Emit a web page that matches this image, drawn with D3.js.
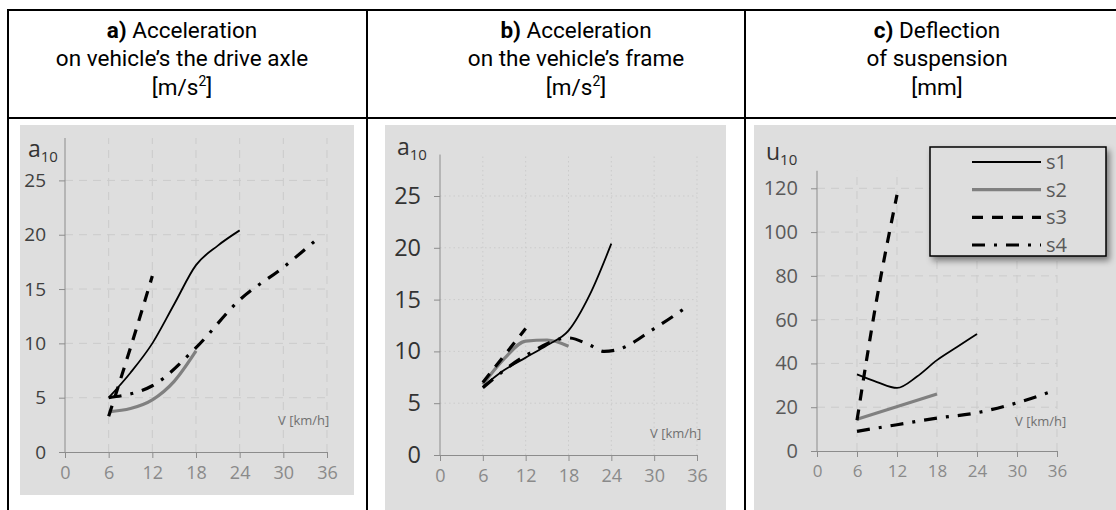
<!DOCTYPE html>
<html lang="en">
<head>
<meta charset="UTF-8">
<title>Acceleration and deflection vs speed</title>
<script src="https://cdnjs.cloudflare.com/ajax/libs/d3/7.8.5/d3.min.js"></script>
<style>
    body{margin:0;background:#fff;}
    svg{display:block;font-family:"Open Sans", sans-serif;}
</style>
</head>
<body>
<svg id="chart" width="1116" height="510"></svg>
<script>
// ---- data ----
var xTicks = [0, 6, 12, 18, 24, 30, 36];
var yTicksAcc = [0, 5, 10, 15, 20, 25];
var yTicksDef = [0, 20, 40, 60, 80, 100, 120];
var seriesNames = ["s1", "s2", "s3", "s4"];

// a) acceleration on the drive axle
var aS1V = [6, 9, 12, 15, 18, 21, 24];
var aS1 = [5, 7.3, 10, 13.6, 17.2, 19, 20.4];
var aS2V = [6, 9, 12, 15, 18];
var aS2 = [3.7, 4.0, 4.8, 6.5, 9.3];
var aS3V = [6, 9, 12];
var aS3 = [3.3, 9.6, 16.2];
var aS4V = [6, 12, 18, 24, 30, 35];
var aS4 = [5, 6.1, 9.6, 14, 17, 19.8];

// b) acceleration on the frame
var bS1V = [6, 9, 12, 15, 18, 21, 24];
var bS1 = [6.6, 8.2, 9.4, 10.6, 12, 15.5, 20.4];
var bS2V = [6, 9, 12, 15, 18];
var bS2 = [6.8, 9.3, 11, 11.1, 10.5];
var bS3V = [6, 9, 12];
var bS3 = [7, 9.6, 12.2];
var bS4V = [6, 12, 18, 21, 23, 25, 30, 35];
var bS4 = [6.5, 9.6, 11.3, 10.6, 10, 10.2, 12.2, 14.5];

// c) deflection of suspension
var cS1V = [6, 9, 12, 15, 18, 21, 24];
var cS1 = [35, 31.5, 28.8, 34, 41.5, 47.5, 53.5];
var cS2V = [6, 18];
var cS2 = [14.5, 26];
var cS3V = [6, 9, 12];
var cS3 = [14, 70, 117];
var cS4V = [6, 12, 18, 24, 30, 35];
var cS4 = [9, 12, 15, 17.5, 22, 27];

// ---- styles ----
var lineStyle = {
    s1: {stroke: "#000", width: 1.8, dash: null},
    s2: {stroke: "#808080", width: 3.2, dash: null},
    s3: {stroke: "#000", width: 3.2, dash: "11,9"},
    s4: {stroke: "#000", width: 3.2, dash: "13,9,3,9"}
};

var svg = d3.select("#chart");

// ---- table frame ----
var frame = svg.append("g").attr("stroke", "#000").attr("stroke-width", 2);
frame.append("line").attr("x1", 7).attr("x2", 1116).attr("y1", 10).attr("y2", 10);
frame.append("line").attr("x1", 7).attr("x2", 1116).attr("y1", 118).attr("y2", 118);
frame.append("line").attr("x1", 8).attr("x2", 8).attr("y1", 9).attr("y2", 510);
frame.append("line").attr("x1", 367).attr("x2", 367).attr("y1", 9).attr("y2", 510);
frame.append("line").attr("x1", 745).attr("x2", 745).attr("y1", 9).attr("y2", 510);

// ---- header texts ----
var headers = [
    {cx: 182, tag: "a)", lines: ["Acceleration", "on vehicle\u2019s the drive axle"], unit: "m/s"},
    {cx: 576, tag: "b)", lines: ["Acceleration", "on the vehicle\u2019s frame"], unit: "m/s"},
    {cx: 937, tag: "c)", lines: ["Deflection", "of suspension"], unit: "mm"}
];
headers.forEach(function(h){
    var g = svg.append("g").attr("font-size", 22.5).attr("fill", "#000")
        .attr("font-family", "Roboto, sans-serif").attr("text-anchor", "middle");
    var t1 = g.append("text").attr("x", h.cx).attr("y", 38);
    t1.append("tspan").attr("font-weight", "bold").text(h.tag + " ");
    t1.append("tspan").text(h.lines[0]);
    g.append("text").attr("x", h.cx).attr("y", 65.5).text(h.lines[1]);
    var t3 = g.append("text").attr("x", h.cx).attr("y", 95);
    t3.append("tspan").text("[" + h.unit);
    if (h.unit == "m/s") {
        t3.append("tspan").attr("font-size", 14).attr("dy", -9).text("2");
        t3.append("tspan").attr("dy", 9).text("]");
    } else {
        t3.append("tspan").text("]");
    }
});

// ---- panels ----
var panels = [
    {
        bg: [20, 125, 334, 370], xr: [65, 327], yr: [452, 180.4], yDom: [0, 25], yTop: 28.9,
        yTicks: yTicksAcc, grid: "8,6", yFont: 19, yColor: "#404040", xFont: 18,
        sym: "a", symX: 28, symY: 157, vX: 278, vY: 425,
        data: [[aS1V, aS1], [aS2V, aS2], [aS3V, aS3], [aS4V, aS4]]
    },
    {
        bg: [385, 125, 341, 385], xr: [440, 697], yr: [455, 196], yDom: [0, 25], yTop: 29,
        yTicks: yTicksAcc, grid: "1.5,3", yFont: 23.5, yColor: "#333", xFont: 18,
        sym: "a", symX: 397, symY: 155, vX: 650, vY: 438,
        data: [[bS1V, bS1], [bS2V, bS2], [bS3V, bS3], [bS4V, bS4]]
    },
    {
        bg: [754, 125, 362, 385], xr: [817, 1057], yr: [451, 188.3], yDom: [0, 120], yTop: 128,
        yTicks: yTicksDef, grid: "8,6", yFont: 20, yColor: "#595959", xFont: 17,
        sym: "u", symX: 766, symY: 160, vX: 1015, vY: 426,
        data: [[cS1V, cS1], [cS2V, cS2], [cS3V, cS3], [cS4V, cS4]],
        legend: true
    }
];

panels.forEach(function(p){
    var g = svg.append("g");
    g.append("rect").attr("x", p.bg[0]).attr("y", p.bg[1])
        .attr("width", p.bg[2]).attr("height", p.bg[3]).attr("fill", "#dedede");

    var x = d3.scaleLinear().domain([0, 36]).range(p.xr);
    var y = d3.scaleLinear().domain(p.yDom).range(p.yr);

    // grid
    g.append("g").selectAll("line").data(p.yTicks.slice(1)).enter().append("line")
        .attr("x1", x(0)).attr("x2", x(36))
        .attr("y1", function(d){ return y(d); }).attr("y2", function(d){ return y(d); })
        .attr("stroke", "#cbcbcb").attr("stroke-width", 1).attr("stroke-dasharray", p.grid);
    g.append("g").selectAll("line").data(xTicks.slice(1)).enter().append("line")
        .attr("x1", function(d){ return x(d); }).attr("x2", function(d){ return x(d); })
        .attr("y1", y(0)).attr("y2", y(p.yTop))
        .attr("stroke", "#cbcbcb").attr("stroke-width", 1).attr("stroke-dasharray", p.grid);

    // axes
    var xAxis = g.append("g").attr("transform", "translate(0," + y(0) + ")")
        .call(d3.axisBottom(x).tickValues(xTicks).tickSize(6).tickPadding(8).tickSizeOuter(0));
    xAxis.select(".domain").attr("stroke", "#8c8c8c");
    xAxis.selectAll(".tick line").attr("stroke", "#8c8c8c");
    xAxis.selectAll("text").attr("font-size", p.xFont).attr("fill", "#8a8a8a")
        .attr("font-family", "'Open Sans', sans-serif");

    var yAxis = g.append("g").attr("transform", "translate(" + x(0) + ",0)")
        .call(d3.axisLeft(y).tickValues(p.yTicks).tickSize(6).tickPadding(13).tickSizeOuter(0));
    yAxis.select(".domain").attr("d", "M0," + y(0) + "V" + y(p.yTop)).attr("stroke", "#8c8c8c");
    yAxis.selectAll(".tick line").attr("stroke", "#8c8c8c");
    yAxis.selectAll("text").attr("font-size", p.yFont).attr("fill", p.yColor)
        .attr("font-family", "'Open Sans', sans-serif");

    // axis symbols
    var s = g.append("text").attr("x", p.symX).attr("y", p.symY).attr("fill", "#333").attr("font-size", 23);
    s.append("tspan").text(p.sym);
    s.append("tspan").attr("font-size", 15).attr("dy", 5).text("10");
    g.append("text").attr("x", p.vX).attr("y", p.vY).attr("font-size", 13)
        .attr("fill", "#707070").text("V [km/h]");

    // series
    var line = d3.line()
        .x(function(d){ return x(d[0]); })
        .y(function(d){ return y(d[1]); })
        .curve(d3.curveMonotoneX);
    var order = [1, 0, 3, 2];
    order.forEach(function(i){
        var st = lineStyle[seriesNames[i]];
        var pts = d3.zip(p.data[i][0], p.data[i][1]);
        g.append("path").datum(pts).attr("d", line)
            .attr("fill", "none").attr("stroke", st.stroke)
            .attr("stroke-width", st.width)
            .attr("stroke-dasharray", st.dash);
    });

    if (p.legend) {
        var defs = svg.append("defs");
        var f = defs.append("filter").attr("id", "shadow").attr("x", "-10%").attr("y", "-10%")
            .attr("width", "130%").attr("height", "140%");
        f.append("feDropShadow").attr("dx", 3).attr("dy", 4).attr("stdDeviation", 3)
            .attr("flood-color", "#000").attr("flood-opacity", 0.45);
        var lg = g.append("g");
        lg.append("rect").attr("x", 930).attr("y", 147).attr("width", 176).attr("height", 109)
            .attr("fill", "#dedede").attr("stroke", "#000").attr("stroke-width", 1.5)
            .attr("filter", "url(#shadow)");
        var ly = d3.scalePoint().domain(seriesNames).range([162, 245]);
        seriesNames.forEach(function(n){
            var st = lineStyle[n];
            lg.append("line").attr("x1", 972).attr("x2", 1041)
                .attr("y1", ly(n)).attr("y2", ly(n))
                .attr("stroke", st.stroke).attr("stroke-width", st.width)
                .attr("stroke-dasharray", st.dash);
            lg.append("text").attr("x", 1046).attr("y", ly(n) + 7).attr("font-size", 20)
                .attr("fill", "#595959").text(n);
        });
    }
});
</script>
</body>
</html>
